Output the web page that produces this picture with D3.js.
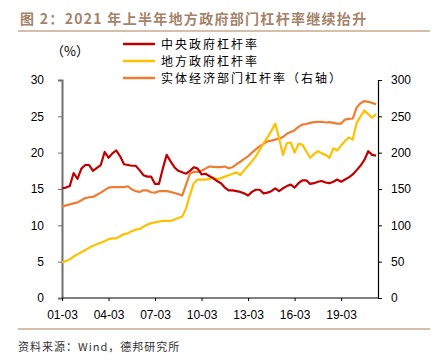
<!DOCTYPE html>
<html><head><meta charset="utf-8">
<script src="https://cdn.jsdelivr.net/npm/d3@7"></script>
<style>
body{margin:0;background:#fff;}
svg{display:block;}
</style></head>
<body><svg id="c" width="444" height="364"></svg>
<script>
const title = "图 2：2021 年上半年地方政府部门杠杆率继续抬升";
const source = "资料来源：Wind，德邦研究所";
const seriesNames = ["中央政府杠杆率", "地方政府杠杆率", "实体经济部门杠杆率（右轴）"];
const xTickLabels = ["01-03","04-03","07-03","10-03","13-03","16-03","19-03"];
const leftTicks = [0,5,10,15,20,25,30];
const rightTicks = [0,50,100,150,200,250,300];
// quarterly, 2001Q1 .. 2021Q2
const central = [15.1,15.2,15.4,17.2,16.4,17.8,18.3,18.3,17.5,17.9,18.3,20.1,19.3,19.9,20.3,19.5,18.4,18.3,18.2,18.2,
17.6,16.9,16.7,16.7,15.7,15.7,17.8,19.7,18.8,18.0,17.5,17.3,17.1,17.5,18.0,17.8,17.0,17.1,16.8,16.5,
16.1,15.8,15.2,14.8,14.8,14.7,14.6,14.4,14.1,14.6,14.9,14.9,14.4,14.5,14.7,15.1,14.7,15.1,15.4,15.6,
15.2,15.8,16.2,16.2,15.7,15.8,16.0,16.1,15.9,15.8,16.0,16.3,16.0,16.3,16.6,17.0,17.6,18.2,19.0,20.2,19.7,19.6];
const local = [4.9,5.1,5.3,5.7,6.0,6.3,6.6,6.9,7.2,7.4,7.6,7.8,8.1,8.2,8.2,8.5,8.8,8.9,9.2,9.4,
9.5,9.8,10.1,10.3,10.4,10.5,10.6,10.6,10.6,10.8,11.0,11.2,12.3,14.2,15.8,16.3,16.3,16.3,16.4,16.5,
16.4,16.5,16.7,16.9,17.1,17.3,16.9,17.6,18.2,18.8,19.5,20.4,21.3,22.1,23.0,24.0,22.0,19.7,21.3,21.4,
20.0,21.2,21.1,20.2,19.3,19.8,20.2,19.9,19.7,19.3,20.6,20.3,21.0,21.6,22.1,21.8,24.1,25.0,25.8,25.3,24.8,25.3];
const realEconomy = [125.8,127.5,128.8,130.2,131.5,134.5,137.5,138.7,139.0,142.0,145.0,148.5,152.0,152.5,152.5,152.5,152.5,153.8,149.5,147.0,
146.0,148.3,148.0,145.5,145.0,147.0,147.0,147.0,146.0,144.5,143.0,141.0,156.0,171.0,173.6,173.6,175.0,178.0,181.0,180.5,
180.0,180.0,181.0,178.5,180.0,184.0,187.5,191.5,195.0,200.0,204.5,209.0,212.0,215.5,216.5,218.0,219.5,221.5,226.0,228.5,
231.0,235.5,238.5,239.5,241.0,242.0,242.5,242.5,241.5,242.0,241.0,240.0,240.0,245.5,246.5,247.0,262.0,268.0,271.0,270.0,268.5,266.5];
const quarters = [];
for (let y = 2001; quarters.length < central.length; y++) for (const m of ["03","06","09","12"]) { if (quarters.length < central.length) quarters.push(String(y).slice(2)+"-"+m); }

const colors = ["#c00000","#ffc000","#ed7d31"];
const svg = d3.select("#c");
const cjk = "'Noto Sans CJK SC', sans-serif";
const latin = "'Liberation Sans', Arial, sans-serif";

// title
svg.append("text").attr("x",20).attr("y",24).attr("fill","#a5836a")
  .attr("font-family",cjk).attr("font-weight","bold").attr("font-size",14)
  .attr("letter-spacing","1.3px").text(title);
svg.append("line").attr("x1",18).attr("x2",430).attr("y1",31).attr("y2",31).attr("stroke","#c9a98c").attr("stroke-width",1.5);
svg.append("line").attr("x1",18).attr("x2",430).attr("y1",329).attr("y2",329).attr("stroke","#c9a98c").attr("stroke-width",1.5);
svg.append("text").attr("x",18).attr("y",351).attr("fill","#333").attr("font-family",cjk).attr("font-size",11)
  .attr("letter-spacing","1px").text(source);

const x = d3.scaleLinear().domain([0, quarters.length-1]).range([62, 376]);
const yL = d3.scaleLinear().domain([0,30]).range([298,80]);
const yR = d3.scaleLinear().domain([0,300]).range([298,80]);

// axes
const axL = svg.append("g").attr("transform","translate(62,0)")
  .call(d3.axisLeft(yL).tickValues(leftTicks).tickSize(4).tickPadding(14));
axL.select(".domain").attr("stroke","#6e6e6e").attr("stroke-width",2);
axL.selectAll(".tick line").attr("stroke","#6e6e6e");
axL.selectAll("text").attr("font-family",latin).attr("font-size",12).attr("fill","#000");

const axR = svg.append("g").attr("transform","translate(378,0)")
  .call(d3.axisRight(yR).tickValues(rightTicks).tickSize(4).tickPadding(9));
axR.select(".domain").attr("stroke","#000").attr("stroke-width",1.2);
axR.selectAll(".tick line").attr("stroke","#000");
axR.selectAll("text").attr("font-family",latin).attr("font-size",12).attr("fill","#000");

const tickIdx = xTickLabels.map(l => quarters.indexOf(l));
const axB = svg.append("g").attr("transform","translate(0,298)")
  .call(d3.axisBottom(x).tickValues(tickIdx).tickFormat((d,i)=>xTickLabels[i]).tickSize(3).tickPadding(9).tickSizeOuter(0));
axB.select(".domain").attr("stroke","#000").attr("stroke-width",1.2).attr("d","M62,0H378");
axB.selectAll(".tick line").attr("stroke","#000");
axB.selectAll("text").attr("font-family",latin).attr("font-size",12).attr("fill","#000");

svg.append("text").attr("x",51).attr("y",56).attr("font-family",cjk).attr("font-size",13).attr("fill","#000").text("（%）");

// lines
const lineL = d3.line().x((d,i)=>x(i)).y(d=>yL(d));
const lineR = d3.line().x((d,i)=>x(i)).y(d=>yR(d));
const series = [
  {data: central, line: lineL, color: colors[0]},
  {data: local, line: lineL, color: colors[1]},
  {data: realEconomy, line: lineR, color: colors[2]}
];
[series[2], series[1], series[0]].forEach(s => {
  svg.append("path").attr("d", s.line(s.data)).attr("fill","none")
    .attr("stroke", s.color).attr("stroke-width",2.2).attr("stroke-linejoin","round");
});

// legend
const legY = [44, 61, 78];
seriesNames.forEach((n,i)=>{
  svg.append("line").attr("x1",123).attr("x2",155).attr("y1",legY[i]).attr("y2",legY[i])
    .attr("stroke",colors[i]).attr("stroke-width",2.5);
  svg.append("text").attr("x",161).attr("y",legY[i]+4.5).attr("font-family",cjk).attr("font-size",12)
    .attr("letter-spacing","2px").attr("fill","#000").text(n);
});
</script></body></html>
